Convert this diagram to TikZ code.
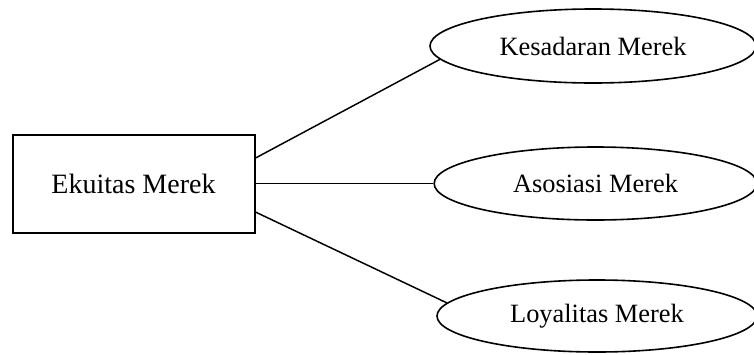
\documentclass[tikz,border=0pt]{standalone}
\usepackage{fontspec}
\setmainfont{Liberation Serif}
\usetikzlibrary{shapes.geometric}

\tikzset{
  mainbox/.style={draw, line width=1.5pt, rectangle, inner sep=0pt,
    minimum width=181.5pt, minimum height=73.5pt,
    font=\fontsize{21}{25}\selectfont},
  dimension/.style={draw, line width=1.2pt, ellipse, inner sep=0pt,
    font=\fontsize{19.8}{24}\selectfont},
  link/.style={line width=1.1pt}
}

\begin{document}
\begin{tikzpicture}[x=0.75pt, y=-0.75pt]
  \useasboundingbox (0,0) rectangle (754,354);

  % central construct
  \node[mainbox] (equity) at (133.5,183.5) {Ekuitas Merek};

  % its three dimensions
  \node[dimension, minimum width=244.5pt, minimum height=55.5pt]
    (awareness) at (593,46) {Kesadaran Merek};
  \node[dimension, minimum width=242pt, minimum height=54.75pt]
    (association) at (595.5,183.5) {Asosiasi Merek};
  \node[dimension, minimum width=240pt, minimum height=54pt]
    (loyalty) at (597,316) {Loyalitas Merek};

  % connectors
  \draw[link] ([yshift=19.1pt]equity.east) -- (awareness.185);
  \draw[link] (equity.east) -- (association.west);
  \draw[link] ([yshift=-21.4pt]equity.east) -- (loyalty.175);
\end{tikzpicture}
\end{document}
